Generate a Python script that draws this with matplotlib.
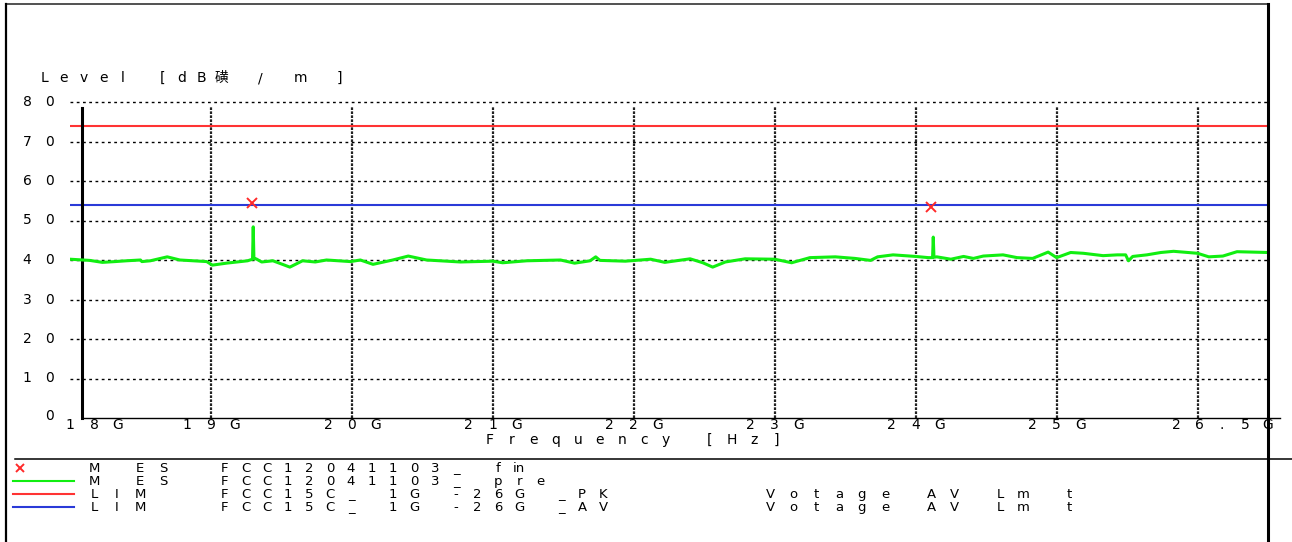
import matplotlib
matplotlib.use('Agg')
import matplotlib.pyplot as plt
import matplotlib.transforms as mtransforms
from matplotlib.lines import Line2D

W, H = 1292, 542

# frequency axis, GHz
x_grid = [19, 20, 21, 22, 23, 24, 25, 26]
x_labels = [(18, '18G', 'left'), (19, '19G', 'center'), (20, '20G', 'center'),
            (21, '21G', 'center'), (22, '22G', 'center'), (23, '23G', 'center'),
            (24, '24G', 'center'), (25, '25G', 'center'), (26.5, '26.5G', 'right')]
y_ticks = [0, 10, 20, 30, 40, 50, 60, 70, 80]

# limits, dBuV/m
pk_limit = 74
av_limit = 54

# pre-scan trace
freq = [18.00, 18.14, 18.23, 18.32, 18.40, 18.50, 18.51, 18.57, 18.69, 18.78,
        18.97, 19.01, 19.11, 19.26, 19.295, 19.30, 19.305, 19.32, 19.36, 19.44,
        19.56, 19.65, 19.74, 19.82, 19.99, 20.06, 20.15, 20.29, 20.40, 20.53,
        20.77, 21.00, 21.07, 21.24, 21.48, 21.58, 21.69, 21.73, 21.76, 21.94,
        22.12, 22.22, 22.40, 22.49, 22.56, 22.65, 22.79, 23.00, 23.12, 23.25,
        23.43, 23.57, 23.68, 23.73, 23.84, 24.00, 24.09, 24.12, 24.125, 24.13,
        24.15, 24.25, 24.34, 24.41, 24.48, 24.62, 24.72, 24.83, 24.94, 25.00,
        25.10, 25.19, 25.33, 25.43, 25.49, 25.51, 25.54, 25.64, 25.74, 25.83,
        26.00, 26.08, 26.18, 26.28, 26.50]
level = [40.2, 39.9, 39.4, 39.6, 39.8, 40.0, 39.6, 39.8, 40.8, 40.0,
         39.6, 38.7, 39.2, 39.8, 40.2, 48.4, 40.3, 40.3, 39.5, 39.8,
         38.2, 39.8, 39.5, 40.0, 39.6, 40.0, 38.9, 40.0, 41.0, 40.0,
         39.5, 39.7, 39.3, 39.8, 40.0, 39.2, 39.8, 40.8, 39.9, 39.7,
         40.2, 39.4, 40.3, 39.3, 38.2, 39.5, 40.3, 40.2, 39.3, 40.6,
         40.8, 40.4, 39.9, 40.8, 41.3, 40.9, 40.6, 40.6, 45.8, 40.7,
         40.8, 40.2, 40.9, 40.4, 41.0, 41.3, 40.6, 40.4, 42.0, 40.6,
         41.9, 41.7, 41.1, 41.3, 41.3, 39.8, 40.9, 41.3, 41.9, 42.2,
         41.7, 40.8, 41.0, 42.1, 41.9]

# final measurements
mark_f = [19.29, 24.11]
mark_v = [54.5, 53.4]

legend_rows = [('x', '#ff2a2a', 'M ES', list('FCC12041103_ f') + ['in'], ''),
               ('-', '#11ee11', 'M ES', 'FCC12041103_ pre', ''),
               ('-', '#ff3333', 'LIM', 'FCC15C_ 1G -26G _PK', 'Votage AV Lm t'),
               ('-', '#2a3ad8', 'LIM', 'FCC15C_ 1G -26G _AV', 'Votage AV Lm t')]

FONT = ['DejaVu Sans', 'Noto Sans CJK SC']
FS = 10

fig = plt.figure(figsize=(W / 100, H / 100), dpi=100)
ax = fig.add_axes([70 / W, 1 - 418 / H, (1268 - 70) / W, (418 - 102) / H])
ax.set_xlim(18, 26.5)
ax.set_ylim(0, 80)
ax.patch.set_alpha(0)


def spaced(tr, x, y, s, pitch, anchor='left', fs=FS):
    # one glyph per fixed-width cell, like the receiver printout
    n = len(s)
    if anchor == 'center':
        start = -(n - 1) * pitch / 2
    elif anchor == 'right':
        start = -(n - 1) * pitch
    else:
        start = 0
    for i, ch in enumerate(s):
        if ch == ' ':
            continue
        t = mtransforms.offset_copy(tr, fig=fig, x=start + i * pitch, y=-4, units='dots')
        fig.text(x, y, ch, transform=t, ha='center', va='baseline',
                 family=FONT, fontsize=fs, color='black')


def fline(x0, y0, x1, y1, **kw):
    fig.add_artist(Line2D([x0 / W, x1 / W], [1 - y0 / H, 1 - y1 / H],
                          transform=fig.transFigure, **kw))


# grid
for v in y_ticks[1:]:
    ax.axhline(v, color='black', lw=1.0, dashes=(2, 2.5), zorder=1, clip_on=False)
for f in x_grid:
    ax.axvline(f, ymax=0.985, color='#222222', lw=1.6, dashes=(1.2, 0.6), zorder=1)

# limit lines and trace
ax.axhline(pk_limit, color='#ff3333', lw=1.5, zorder=2)
ax.axhline(av_limit, color='#2a3ad8', lw=1.5, zorder=2)
ax.plot(freq, level, color='#11ee11', lw=2.2, zorder=3)
ax.plot(mark_f, mark_v, 'x', color='#ff2a2a', ms=6.5, mew=1.4, zorder=4)

# axes lines
for s in ['top', 'right']:
    ax.spines[s].set_visible(False)
ax.spines['left'].set_position(('data', 18.085))
ax.spines['left'].set_bounds(0, 78.6)
ax.spines['left'].set_linewidth(2.2)
ax.spines['bottom'].set_bounds(18.085, 26.585)
ax.spines['bottom'].set_linewidth(1.0)
ax.spines['bottom'].set_clip_on(False)
ax.tick_params(length=0, labelbottom=False, labelleft=False)

# tick labels
ident = mtransforms.IdentityTransform()
ytr = mtransforms.blended_transform_factory(ident, ax.transData)
for v in y_ticks:
    spaced(ytr, 50, v + (0.6 if v == 0 else 0), str(v), 23, 'right')
xtr = mtransforms.blended_transform_factory(ax.transData, ident)
for f, lab, anc in x_labels:
    pitch = 23 if anc == 'right' else 24
    spaced(xtr, f, H - 425, lab, pitch, anc)

spaced(ident, 490, H - 440, 'Frequency [Hz]', 22)
spaced(ident, 44, H - 78, 'Level [dB磺 / m ]', 19.7)

# frame
fline(6, 4, 1268, 4, color='#333333', lw=1.2)
fline(6, 4, 6, 542, color='black', lw=1.6)
fline(1268, 4, 1268, 542, color='black', lw=2.2)
fline(15, 459, 1292, 459, color='black', lw=1.1)

# legend block
for i, (kind, col, a, b, c) in enumerate(legend_rows):
    y = 468 + i * 13
    if kind == 'x':
        fig.add_artist(Line2D([20 / W], [1 - y / H], marker='x', color=col, ms=6,
                              mew=1.4, transform=fig.transFigure))
    else:
        fline(13, y, 74, y, color=col, lw=1.5)
    spaced(ident, 94, H - y, a, 23, fs=9.5)
    spaced(ident, 225, H - y, b, 21, fs=9.5)
    if c:
        spaced(ident, 770, H - y, c, 23, fs=9.5)

plt.savefig('out.png', dpi=100)
